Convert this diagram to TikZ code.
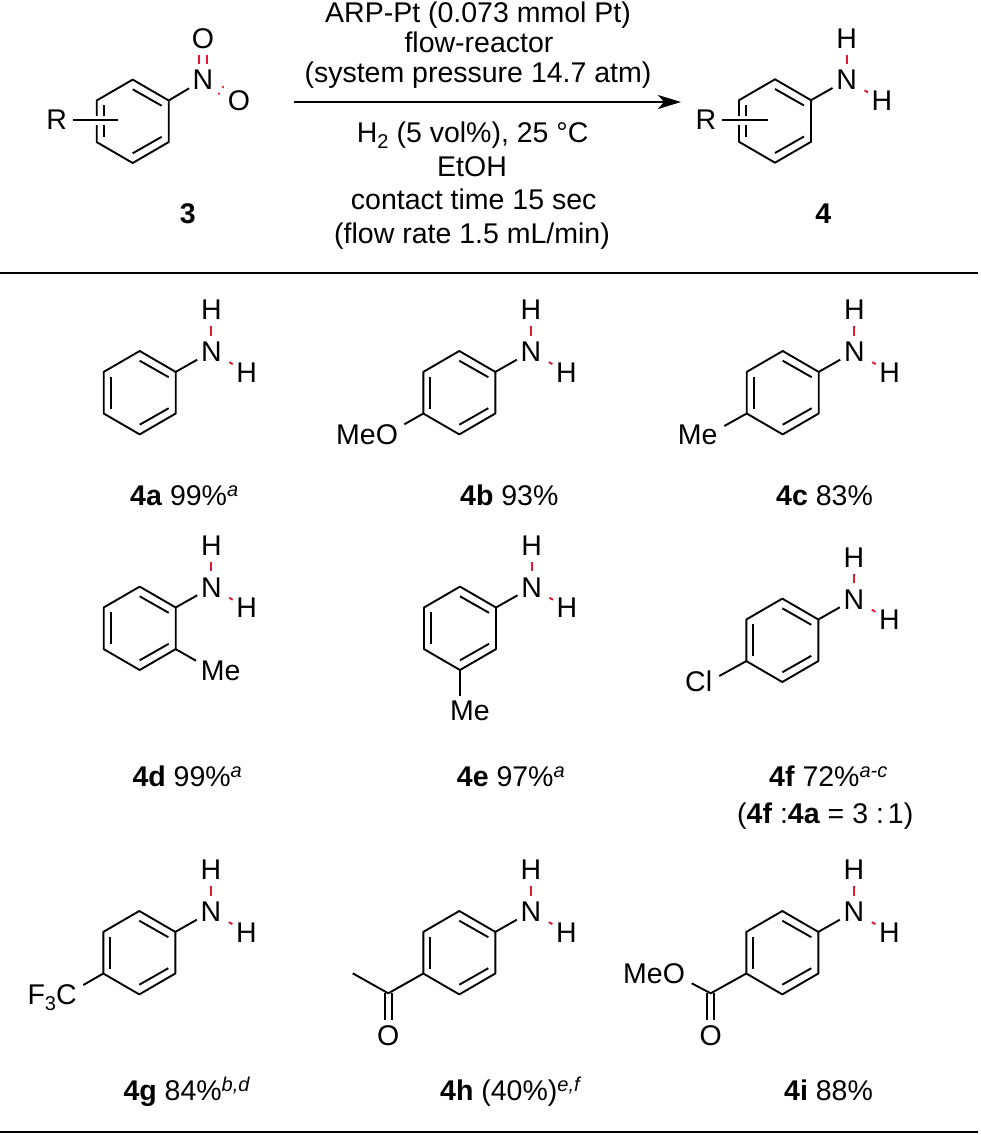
\documentclass[tikz,border=0pt]{standalone}
\usepackage{fontspec}
\setmainfont{Liberation Sans}
\usetikzlibrary{arrows.meta}

\definecolor{bondred}{RGB}{226,24,48}
\newcommand{\chemfont}{\fontsize{28.5pt}{33pt}\selectfont}
\newcommand{\highitem}[1]{\raisebox{8.3pt}{\fontsize{20pt}{20pt}\selectfont\itshape #1}}
\newcommand{\lowitem}[1]{\raisebox{-6pt}{\fontsize{20pt}{20pt}\selectfont #1}}

% hexagon with its three inner bonds, vertices #1a ... #1f clockwise from the top
\newcommand{\benzring}[3]{
    \coordinate (#1c0) at (#2,#3);
    \coordinate (#1a) at ([shift={(0,-41.7)}]#1c0);
    \coordinate (#1b) at ([shift={(36,-20.8)}]#1c0);
    \coordinate (#1c) at ([shift={(36,20.8)}]#1c0);
    \coordinate (#1d) at ([shift={(0,41.7)}]#1c0);
    \coordinate (#1e) at ([shift={(-36,20.8)}]#1c0);
    \coordinate (#1f) at ([shift={(-36,-20.8)}]#1c0);
    \draw[bond] (#1a) -- (#1b) -- (#1c) -- (#1d) -- (#1e) -- (#1f) -- cycle;
    \draw[bond] ([shift={(0,-32)}]#1c0) -- ([shift={(29,-15.5)}]#1c0);
    \draw[bond] ([shift={(0,32)}]#1c0) -- ([shift={(29,15.5)}]#1c0);
    \draw[bond] ([shift={(-29,-16)}]#1c0) -- ([shift={(-29,16)}]#1c0);
}

% amino group on vertex b of the ring
\newcommand{\aminogroup}[1]{
    \node[atom] (#1N) at ([shift={(71.6,-41)}]#1c0) {N};
    \node[atom] (#1Ht) at ([shift={(71.6,-82.7)}]#1c0) {H};
    \node[atom] (#1Hr) at ([shift={(107,-20.4)}]#1c0) {H};
    \draw[bond] (#1b) -- (#1N);
    \draw[redbond] (#1N) -- (#1Ht);
    \draw[redbond, shorten <=4.5pt] (#1N) -- (#1Hr);
}

\tikzset{
    every node/.style={font=\chemfont},
    bond/.style={line width=1.9pt, line join=round, black},
    redbond/.style={line width=1.9pt, bondred},
    atom/.style={circle, inner sep=0pt, minimum size=32pt},
    subst/.style={anchor=base west, inner sep=0pt},
    reagent/.style={anchor=base, inner sep=0pt},
    yieldlabel/.style={anchor=base west, inner sep=0pt},
    rule/.style={line width=2pt, black}
}

\begin{document}
\begin{tikzpicture}[x=1pt, y=-1pt]
\useasboundingbox (0,0) rectangle (980,1135);

% Reaction scheme: nitroarene 3
\benzring{s}{132.7}{121.3}
\node[atom] (sR) at (56.7,120) {R};
\coordinate (sRend) at (118.3,120);
\draw[bond, preaction={draw, white, line width=9pt}] (sR) -- (sRend);
\node[atom] (sN) at (203,80) {N};
\node[atom] (sOt) at (203,39) {O};
\node[atom] (sOr) at (239,100.7) {O};
\draw[bond] (sb) -- (sN);
\draw[redbond] ([xshift=-3.8pt]sN.north) -- ([xshift=-3.8pt]sOt.south);
\draw[redbond] ([xshift=3.8pt]sN.north) -- ([xshift=3.8pt]sOt.south);
\draw[redbond, shorten <=3.7pt, shorten >=3.7pt] ([shift={(2,-3.3)}]sN.330) -- ([shift={(2,-3.3)}]sOr.150);
\draw[redbond, shorten <=3.7pt, shorten >=3.7pt] ([shift={(-2,3.3)}]sN.330) -- ([shift={(-2,3.3)}]sOr.150);
\node[reagent, font=\chemfont\bfseries] (lab3) at (187.7,223) {3};

% Reagents and arrow
\node[reagent] (arp) at (478,22.5) {ARP-Pt (0.073 mmol Pt)};
\node[reagent] (flowreactor) at (479,52.5) {flow-reactor};
\node[reagent] (syspressure) at (478,82.5) {(system pressure 14.7 atm)};
\coordinate (arrowL) at (294,102);
\coordinate (arrowR) at (681,102);
\draw[line width=1.9pt, -{Stealth[length=23pt, width=14pt, inset=6pt]}] (arrowL) -- (arrowR);
\node[reagent] (hydrogen) at (472.7,142) {H\lowitem{2} (5 vol\%), 25 °C};
\node[reagent] (etoh) at (472,176) {EtOH};
\node[reagent] (contact) at (473.7,209.5) {contact time 15 sec};
\node[reagent] (flowrate) at (472,243) {(flow rate 1.5 mL/min)};

% Reaction scheme: aniline 4
\benzring{p}{775}{121}
\node[atom] (pR) at (706,120) {R};
\coordinate (pRend) at (767.7,120);
\draw[bond, preaction={draw, white, line width=9pt}] (pR) -- (pRend);
\aminogroup{p}
\node[reagent, font=\chemfont\bfseries] (lab4) at (823.3,223) {4};

\coordinate (ruleTL) at (0,272.5);
\coordinate (ruleTR) at (978,272.5);
\draw[rule] (ruleTL) -- (ruleTR);

% First row
\benzring{a}{139.7}{392.7}
\aminogroup{a}
\node[yieldlabel] (laba) at (130,505) {\textbf{4a} 99\%\highitem{a}};

\benzring{b}{459.3}{392.7}
\aminogroup{b}
\node[subst] (bMeO) at (336,444) {MeO};
\coordinate (bMeOend) at (404.3,424.3);
\draw[bond] (be) -- (bMeOend);
\node[yieldlabel] (labb) at (460,505) {\textbf{4b} 93\%};

\benzring{c}{782.7}{392.7}
\aminogroup{c}
\node[subst] (cMe) at (677.7,444) {Me};
\coordinate (cMeend) at (724.3,426);
\draw[bond] (ce) -- (cMeend);
\node[yieldlabel] (labc) at (776,505) {\textbf{4c} 83\%};

% Second row
\benzring{d}{139.7}{628.3}
\aminogroup{d}
\node[subst] (dMe) at (200.7,680) {Me};
\coordinate (dMeend) at (196,660.7);
\draw[bond] (dc) -- (dMeend);
\node[yieldlabel] (labd) at (132.3,786) {\textbf{4d} 99\%\highitem{a}};

\benzring{e}{460}{628.3}
\aminogroup{e}
\node[subst] (eMe) at (450,720.7) {Me};
\coordinate (eMeend) at (460,695.7);
\draw[bond] (ed) -- (eMeend);
\node[yieldlabel] (labe) at (456.7,786) {\textbf{4e} 97\%\highitem{a}};

\benzring{f}{782.3}{640.3}
\aminogroup{f}
\node[subst] (fCl) at (685,691) {Cl};
\coordinate (fClend) at (719.3,676);
\draw[bond] (fe) -- (fClend);
\node[yieldlabel] (labf) at (769,786) {\textbf{4f} 72\%\highitem{a-c}};
\node[yieldlabel] (labfa) at (737,823) {(\textbf{4f} :\textbf{4a} = 3 :\hspace{4pt}1)};

% Third row
\benzring{g}{139.3}{952.7}
\aminogroup{g}
\node[subst] (gCF) at (27.3,1004) {F\lowitem{3}C};
\coordinate (gCFend) at (83.3,985);
\draw[bond] (ge) -- (gCFend);
\node[yieldlabel] (labg) at (123.3,1100) {\textbf{4g} 84\%\highitem{b,d}};

\benzring{h}{459.3}{952.7}
\aminogroup{h}
\coordinate (hC) at (388.3,993.3);
\coordinate (hMe) at (352.7,973.3);
\node[atom] (hO) at (388.3,1036) {O};
\draw[bond] (he) -- (hC) -- (hMe);
\draw[bond] ([xshift=-3.7pt]hC) -- ([xshift=-3.7pt]hO.north);
\draw[bond] ([xshift=3.7pt]hC) -- ([xshift=3.7pt]hO.north);
\node[yieldlabel] (labh) at (440,1100) {\textbf{4h} (40\%)\highitem{e,f}};

\benzring{i}{782.3}{952.7}
\aminogroup{i}
\coordinate (iC) at (710.7,993.3);
\coordinate (iOend) at (691.7,983.3);
\node[atom] (iO) at (710.7,1036) {O};
\node[subst] (iMeO) at (623,983.3) {MeO};
\draw[bond] (ie) -- (iC) -- (iOend);
\draw[bond] ([xshift=-3.7pt]iC) -- ([xshift=-3.7pt]iO.north);
\draw[bond] ([xshift=3.7pt]iC) -- ([xshift=3.7pt]iO.north);
\node[yieldlabel] (labi) at (784,1100) {\textbf{4i} 88\%};

\coordinate (ruleBL) at (0,1132);
\coordinate (ruleBR) at (978,1132);
\draw[rule] (ruleBL) -- (ruleBR);

\end{tikzpicture}
\end{document}
